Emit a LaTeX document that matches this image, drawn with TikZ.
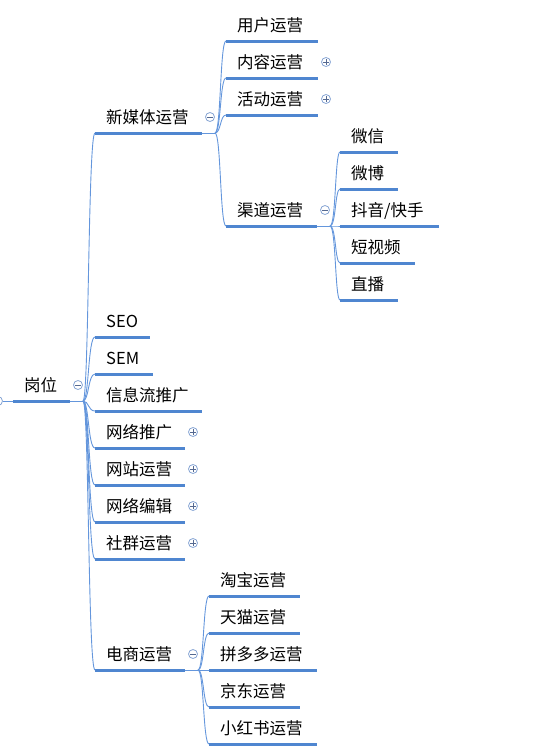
\documentclass[tikz,border=0pt]{standalone}
\usepackage{fontspec}
\setmainfont{Noto Sans CJK SC}
\definecolor{ulc}{RGB}{79,134,208}
\definecolor{lnc}{RGB}{100,150,220}
\definecolor{crc}{RGB}{135,165,212}
\definecolor{sgc}{RGB}{85,105,145}
\tikzset{
  tx/.style={inner sep=0pt, anchor=base west, font=\fontsize{16.5}{18}\selectfont, text=black},
  ul/.style={draw=ulc, line width=3pt},
  ln/.style={draw=lnc, line width=0.9pt},
  tog/.style={circle, draw=crc, fill=white, line width=0.8pt, minimum size=9pt, inner sep=0pt},
  sgn/.style={draw=sgc, line width=0.8pt}
}
% #1 name, #2 x start, #3 x end, #4 y, #5 text
\newcommand\topic[5]{%
  \coordinate (#1s) at (#2,#4);
  \coordinate (#1e) at (#3,#4);
  \node[tx] (#1) at (#2+11,#4-10) {#5};
  \draw[ul] (#1s) -- (#1e);
}
\newcommand\minusbtn[1]{%
  \node[tog] (#1c) at ([shift={(8,-16)}]#1e) {};
  \draw[sgn] ([xshift=-2.6]#1c.center) -- ([xshift=2.6]#1c.center);
}
\newcommand\plusbtn[1]{%
  \node[tog] (#1c) at ([shift={(8,-16)}]#1e) {};
  \draw[sgn] ([xshift=-2.6]#1c.center) -- ([xshift=2.6]#1c.center);
  \draw[sgn] ([yshift=-2.6]#1c.center) -- ([yshift=2.6]#1c.center);
}
% junction: #1 parent name, #2 junction x
\newcommand\junction[2]{%
  \coordinate (#1j) at (#2,0 |- #1e);
  \coordinate (#1ja) at ([xshift=6]#1j);
  \coordinate (#1jb) at ([xshift=5]#1j);
  \draw[ln] (#1e) -- (#1j);
}
% branch: #1 parent, #2 child
\newcommand\branch[2]{%
  \draw[ln] (#1j) .. controls (#1ja) and (#1jb |- #2s) .. (#2s);
}
\begin{document}
\begin{tikzpicture}[x=1pt,y=-1pt]
\useasboundingbox (0,0) rectangle (553,755);
% root
\topic{R}{13}{70}{401}{岗位}
\minusbtn{R}
\node[tog] (Rl) at (-2,401) {};
\draw[ln] (Rl) -- (Rs);
\junction{R}{83}
% level 1
\topic{A}{95}{202}{133}{新媒体运营}
\topic{B}{95}{150}{337}{SEO}
\topic{C}{95}{153}{374}{SEM}
\topic{D}{95}{202}{411}{信息流推广}
\topic{E}{95}{185}{448}{网络推广}
\topic{F}{95}{185}{485}{网站运营}
\topic{G}{95}{185}{522}{网络编辑}
\topic{H}{95}{185}{559}{社群运营}
\topic{I}{95}{185}{670}{电商运营}
\foreach \c in {A,B,C,D,E,F,G,H,I} {\branch{R}{\c}}
\minusbtn{A}
\plusbtn{E}\plusbtn{F}\plusbtn{G}\plusbtn{H}
\minusbtn{I}
% new media children
\junction{A}{215}
\topic{A1}{226}{318}{41}{用户运营}
\topic{A2}{226}{318}{78}{内容运营}
\topic{A3}{226}{318}{115}{活动运营}
\topic{A4}{226}{317}{226}{渠道运营}
\foreach \c in {A1,A2,A3,A4} {\branch{A}{\c}}
\plusbtn{A2}\plusbtn{A3}\minusbtn{A4}
% channels
\junction{A4}{330}
\topic{K1}{340}{398}{152}{微信}
\topic{K2}{340}{398}{189}{微博}
\topic{K3}{340}{439}{226}{抖音/快手}
\topic{K4}{340}{415}{263}{短视频}
\topic{K5}{340}{398}{300}{直播}
\foreach \c in {K1,K2,K3,K4,K5} {\branch{A4}{\c}}
% e-commerce
\junction{I}{198}
\topic{I1}{209}{300}{596}{淘宝运营}
\topic{I2}{209}{300}{633}{天猫运营}
\topic{I3}{209}{317}{670}{拼多多运营}
\topic{I4}{209}{300}{707}{京东运营}
\topic{I5}{209}{317}{744}{小红书运营}
\foreach \c in {I1,I2,I3,I4,I5} {\branch{I}{\c}}
\end{tikzpicture}
\end{document}
